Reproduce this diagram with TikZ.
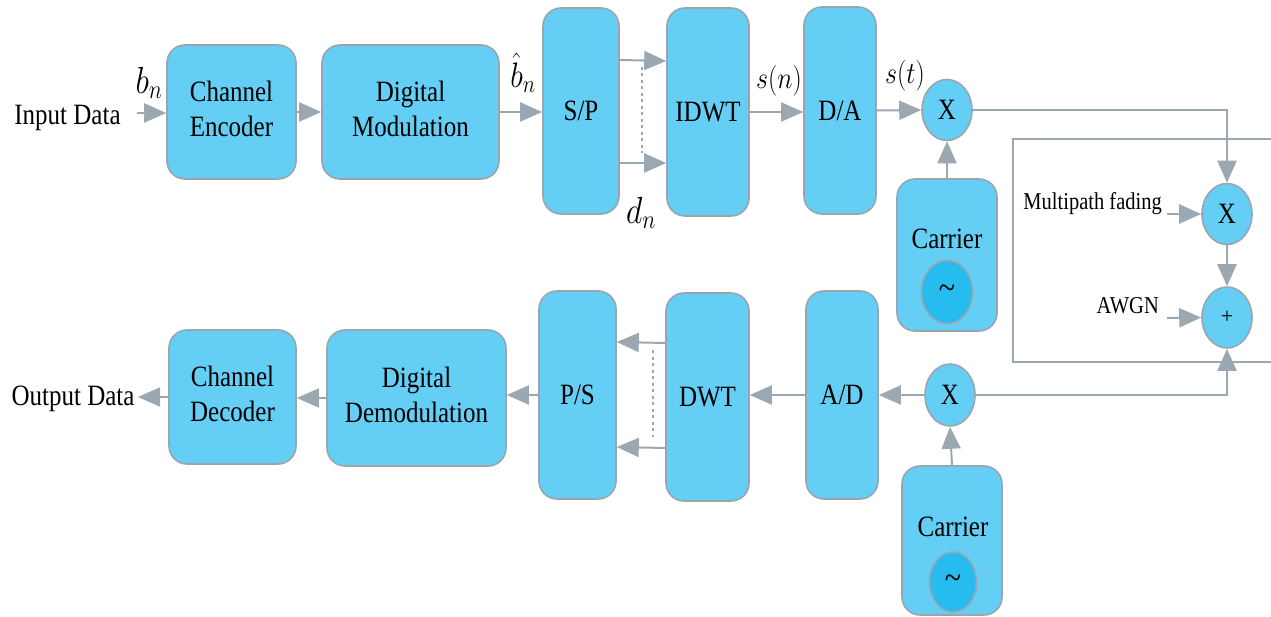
\RequirePackage{fix-cm}
\documentclass[tikz,border=0pt]{standalone}
\usepackage{fontspec}
\setmainfont{Liberation Serif}
\usetikzlibrary{arrows.meta,shapes.geometric}

\definecolor{boxfill}{HTML}{64CEF4}
\definecolor{oscfill}{HTML}{26BCEF}
\definecolor{edgegray}{HTML}{9AA6AF}
\definecolor{wiregray}{HTML}{9BA8B2}

% text in this figure is set slightly tall and narrow
\newcommand{\tall}[1]{\scalebox{1}[1.18]{#1}}
\newcommand{\twolines}[2]{\tall{\begin{tabular}{@{}c@{}}#1\\#2\end{tabular}}}

\begin{document}
\begin{tikzpicture}[x=1pt,y=-1pt,
  blk/.style={draw=edgegray, fill=boxfill, line width=1.6pt, rounded corners=18pt,
              inner sep=0pt, font=\fontsize{25}{30}\selectfont, align=center},
  mix/.style={draw=edgegray, fill=boxfill, line width=1.6pt, ellipse, inner sep=0pt,
              minimum width=50pt, minimum height=61pt, font=\fontsize{25}{30}\selectfont},
  osc/.style={draw=edgegray, fill=oscfill, line width=1.6pt, ellipse, inner sep=0pt,
              font=\fontsize{30}{30}\selectfont},
  lbl/.style={inner sep=0pt, font=\fontsize{25}{30}\selectfont},
  mathlbl/.style={inner sep=0pt, font=\fontsize{30}{32}\selectfont},
  wire/.style={draw=wiregray, line width=2pt},
  arr/.style={wire, -{Triangle[length=22pt,width=19pt]}},
  dotwire/.style={draw=wiregray, line width=2.4pt, dash pattern=on 3pt off 3.5pt},
  chanwire/.style={draw=wiregray, line width=1.8pt}
]
\useasboundingbox (0,0) rectangle (1271,617);

% ---------------- transmitter ----------------
\node[blk, minimum width=129pt, minimum height=134pt] (enc) at (231.5,112) {\twolines{Channel}{Encoder}};
\node[blk, minimum width=177pt, minimum height=134pt] (mod) at (410.5,112) {\twolines{Digital}{Modulation}};
\node[blk, minimum width=76pt, minimum height=206pt] (sp) at (581,111) {\tall{S/P}};
\node[blk, minimum width=82pt, minimum height=208pt] (idwt) at (708,112) {\tall{IDWT}};
\node[blk, minimum width=72pt, minimum height=207pt] (da) at (840,110.5) {\tall{D/A}};
\node[mix] (mx1) at (947,110) {\tall{X}};
\node[blk, minimum width=100pt, minimum height=152pt] (car1) at (947,255) {};
\node[lbl, anchor=base] (car1t) at (947,249) {\tall{Carrier}};
\node[osc, minimum width=51pt, minimum height=63pt] (osc1) at (947,292) {\tall{\textasciitilde}};

\node[lbl, anchor=base] (indata) at (67.5,125) {\tall{Input Data}};
\coordinate (inpt) at (137,113);

\node[mathlbl, font=\fontsize{32}{34}\selectfont] (bn) at (149,83) {\tall{$b_n$}};
\node[mathlbl] (bhat) at (523,73) {\tall{$\hat{b}_n$}};
\node[mathlbl, font=\fontsize{32}{34}\selectfont] (dn) at (641,213) {\tall{$d_n$}};
\node[mathlbl, font=\fontsize{26}{30}\selectfont] (sn) at (779,81) {\tall{$s(n)$}};
\node[mathlbl, font=\fontsize{26}{30}\selectfont] (st) at (905,76) {\tall{$s(t)$}};

% ---------------- channel ----------------
\draw[chanwire] (1271,139) -| (1013,362) -- (1271,362);
\node[mix] (fade) at (1227,214) {\tall{X}};
\node[mix, font=\fontsize{22}{25}\selectfont] (noise) at (1227,317.5) {+};
\node[inner sep=0pt, font=\fontsize{20.5}{25}\selectfont, anchor=base east] (fadet) at (1162,210) {\tall{Multipath fading}};
\node[inner sep=0pt, font=\fontsize{20.5}{25}\selectfont, anchor=base east] (awgnt) at (1159,314) {\tall{AWGN}};
\coordinate (fadein) at (1167,214);
\coordinate (awgnin) at (1167,318);

% ---------------- receiver ----------------
\node[mix, minimum height=62pt] (mx2) at (950,395) {\tall{X}};
\node[blk, minimum width=100pt, minimum height=149pt] (car2) at (952,540.5) {};
\node[lbl, anchor=base] (car2t) at (953,536) {\tall{Carrier}};
\node[osc, minimum width=47pt, minimum height=60pt] (osc2) at (953,582) {\tall{\textasciitilde}};
\node[blk, minimum width=72pt, minimum height=208pt] (ad) at (842,395) {\tall{A/D}};
\node[blk, minimum width=83pt, minimum height=208pt] (dwt) at (707.5,397) {\tall{DWT}};
\node[blk, minimum width=77pt, minimum height=208pt] (ps) at (577.5,395) {\tall{P/S}};
\node[blk, minimum width=179pt, minimum height=136pt] (dem) at (416.5,398) {\twolines{Digital}{Demodulation}};
\node[blk, minimum width=127pt, minimum height=134pt] (dec) at (232.5,397) {\twolines{Channel}{Decoder}};
\node[lbl, anchor=base] (outdata) at (73,405) {\tall{Output Data}};
\coordinate (outpt) at (138,397);

% ---------------- connectors: transmitter ----------------
\draw[arr] (inpt) -- (enc.west |- inpt);
\draw[arr] (enc.east) -- (mod.west);
\draw[arr] (mod.east) -- (sp.west |- mod.east);
\draw[arr] (sp.east |- 0,60) -- (idwt.west |- 0,61);
\draw[arr] (sp.east |- 0,163) -- (idwt.west |- 0,163);
\draw[dotwire] (642,67) -- (642,153);
\draw[arr] (idwt.east) -- (da.west |- idwt.east);
\draw[arr] (da.east) -- (mx1.west);
\draw[arr] (car1.north) -- (mx1.south);

% ---------------- connectors: channel ----------------
\draw[arr] (mx1.east) -| (fade.north);
\draw[arr] (fadein) -- (fade.west);
\draw[arr] (fade.south) -- (noise.north);
\draw[arr] (awgnin) -- (noise.west);
\draw[arr] (mx2.east) -| (noise.south);

% ---------------- connectors: receiver ----------------
\draw[arr] (car2.north) -- (mx2.south);
\draw[arr] (mx2.west) -- (ad.east);
\draw[arr] (ad.west) -- (dwt.east |- ad.west);
\draw[arr] (dwt.west |- 0,343) -- (ps.east |- 0,342);
\draw[arr] (dwt.west |- 0,448) -- (ps.east |- 0,447);
\draw[dotwire] (653,350) -- (653,437);
\draw[arr] (ps.west) -- (dem.east |- ps.west);
\draw[arr] (dem.west) -- (dec.east |- dem.west);
\draw[arr] (dec.west) -- (outpt);
\end{tikzpicture}
\end{document}
